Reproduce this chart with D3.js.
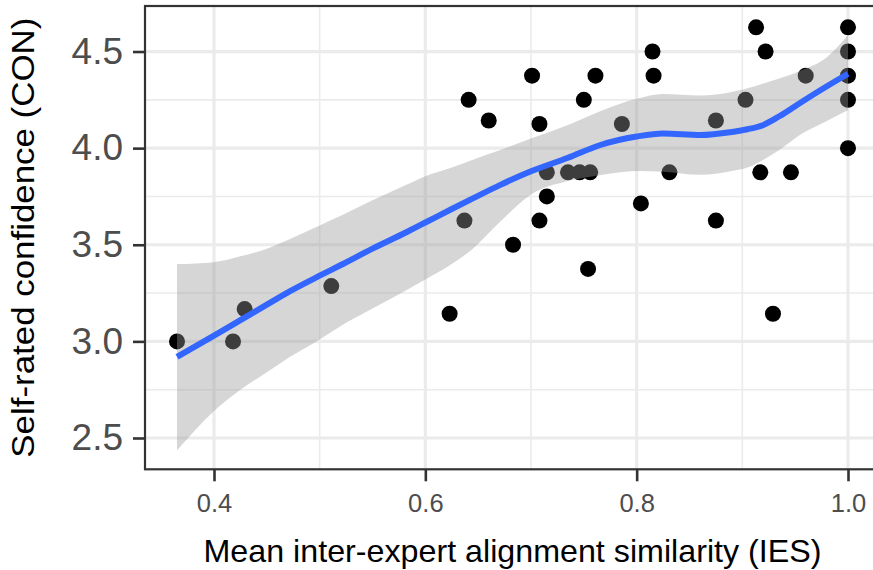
<!DOCTYPE html>
<html>
<head>
<meta charset="utf-8">
<script src="https://cdn.jsdelivr.net/npm/d3@7"></script>
<style>
  html, body { margin: 0; padding: 0; background: #ffffff; }
  svg { display: block; font-family: "Liberation Sans", Arial, sans-serif; }
</style>
</head>
<body>
<svg id="chart" width="873" height="570"></svg>
<script>
// ---- data ----
const ies = [0.365, 0.418, 0.429, 0.511, 0.623, 0.637, 0.641, 0.660, 0.683, 0.701,
             0.708, 0.708, 0.715, 0.715, 0.735, 0.746, 0.756, 0.761, 0.750, 0.754,
             0.786, 0.804, 0.815, 0.816, 0.831, 0.875, 0.875, 0.903, 0.913, 0.917,
             0.922, 0.929, 0.946, 0.960, 1.0, 1.0, 1.0, 1.0, 1.0];
const con = [3.0, 3.0, 3.167, 3.286, 3.143, 3.625, 4.25, 4.143, 3.5, 4.375,
             4.125, 3.625, 3.875, 3.75, 3.875, 3.875, 3.875, 4.375, 4.25, 3.375,
             4.125, 3.714, 4.5, 4.375, 3.875, 4.143, 3.625, 4.25, 4.625, 3.875,
             4.5, 3.143, 3.875, 4.375, 4.625, 4.5, 4.375, 4.25, 4.0];

// loess smooth (fit and 95% band)
const smoothX = [0.365, 0.40, 0.425, 0.45, 0.472, 0.50, 0.52, 0.55, 0.582, 0.60, 0.625, 0.645,
                 0.671, 0.70, 0.735, 0.765, 0.80, 0.825, 0.86, 0.89, 0.905, 0.92, 0.935,
                 0.955, 0.98, 1.0];
const smoothFit = [2.92, 3.03, 3.11, 3.19, 3.26, 3.34, 3.395, 3.48, 3.565, 3.615, 3.685, 3.74,
                   3.81, 3.88, 3.95, 4.015, 4.06, 4.076, 4.068, 4.084, 4.098, 4.12, 4.165,
                   4.235, 4.32, 4.385];
const smoothUpper = [3.40, 3.41, 3.44, 3.48, 3.53, 3.60, 3.65, 3.73, 3.81, 3.855, 3.90, 3.94,
                     3.99, 4.05, 4.12, 4.19, 4.255, 4.28, 4.272, 4.29, 4.31, 4.335, 4.36,
                     4.40, 4.47, 4.585];
const smoothLower = [2.436, 2.64, 2.75, 2.84, 2.92, 3.01, 3.08, 3.17, 3.265, 3.32, 3.40, 3.48,
                     3.62, 3.76, 3.83, 3.86, 3.882, 3.878, 3.862, 3.882, 3.90, 3.94, 3.99,
                     4.07, 4.14, 4.197];

const xTicks = [0.4, 0.6, 0.8, 1.0];
const xTickLabels = ["0.4", "0.6", "0.8", "1.0"];
const xMinor = [0.5, 0.7, 0.9];
const yTicks = [2.5, 3.0, 3.5, 4.0, 4.5];
const yTickLabels = ["2.5", "3.0", "3.5", "4.0", "4.5"];
const yMinor = [2.75, 3.25, 3.75, 4.25];

const xTitle = "Mean inter-expert alignment similarity (IES)";
const yTitle = "Self-rated confidence (CON)";

// ---- layout ----
const panel = { left: 145, top: 6, right: 881.7, bottom: 469.3 };
const x = d3.scaleLinear().domain([0.3347, 1.0319]).range([panel.left, panel.right]);
const y = d3.scaleLinear().domain([2.338, 4.7356]).range([panel.bottom, panel.top]);

const svg = d3.select("#chart");
const pw = panel.right - panel.left, ph = panel.bottom - panel.top;

svg.append("rect").attr("x", 0).attr("y", 0).attr("width", 873).attr("height", 570).attr("fill", "#ffffff");

const g = svg.append("g");
const clip = svg.append("clipPath").attr("id", "pclip");
clip.append("rect").attr("x", panel.left).attr("y", panel.top).attr("width", pw).attr("height", ph);

// grid
const grid = g.append("g").attr("clip-path", "url(#pclip)");
grid.selectAll("line.ymin").data(yMinor).join("line")
  .attr("x1", panel.left).attr("x2", panel.right)
  .attr("y1", d => y(d)).attr("y2", d => y(d))
  .attr("stroke", "#ebebeb").attr("stroke-width", 1.6);
grid.selectAll("line.xmin").data(xMinor).join("line")
  .attr("y1", panel.top).attr("y2", panel.bottom)
  .attr("x1", d => x(d)).attr("x2", d => x(d))
  .attr("stroke", "#ebebeb").attr("stroke-width", 1.6);
grid.selectAll("line.ymaj").data(yTicks).join("line")
  .attr("x1", panel.left).attr("x2", panel.right)
  .attr("y1", d => y(d)).attr("y2", d => y(d))
  .attr("stroke", "#ebebeb").attr("stroke-width", 3.2);
grid.selectAll("line.xmaj").data(xTicks).join("line")
  .attr("y1", panel.top).attr("y2", panel.bottom)
  .attr("x1", d => x(d)).attr("x2", d => x(d))
  .attr("stroke", "#ebebeb").attr("stroke-width", 3.2);

const plot = g.append("g").attr("clip-path", "url(#pclip)");

// points
const pts = ies.map((v, i) => ({ x: v, y: con[i] }));
plot.selectAll("circle").data(pts).join("circle")
  .attr("cx", d => x(d.x)).attr("cy", d => y(d.y)).attr("r", 8)
  .attr("fill", "#000000");

// ribbon
const band = smoothX.map((v, i) => ({ x: v, lo: smoothLower[i], hi: smoothUpper[i], f: smoothFit[i] }));
plot.append("path").datum(band)
  .attr("d", d3.area().x(d => x(d.x)).y0(d => y(d.lo)).y1(d => y(d.hi)).curve(d3.curveMonotoneX))
  .attr("fill", "#999999").attr("fill-opacity", 0.4);

// fit line
plot.append("path").datum(band)
  .attr("d", d3.line().x(d => x(d.x)).y(d => y(d.f)).curve(d3.curveMonotoneX))
  .attr("fill", "none").attr("stroke", "#3366ff").attr("stroke-width", 6)
  .attr("stroke-linecap", "butt");

// panel border
g.append("rect").attr("x", panel.left).attr("y", panel.top).attr("width", pw).attr("height", ph)
  .attr("fill", "none").attr("stroke", "#333333").attr("stroke-width", 2.2);

// axes
const xAxis = d3.axisBottom(x).tickValues(xTicks).tickSize(12).tickPadding(13)
  .tickFormat((d, i) => xTickLabels[i]);
const xg = svg.append("g").attr("transform", `translate(0,${panel.bottom})`).call(xAxis);
xg.select(".domain").remove();
xg.selectAll(".tick line").attr("stroke", "#333333").attr("stroke-width", 2.6);
xg.selectAll(".tick text").attr("fill", "#4d4d4d").style("font-size", "25.5px")
  .style("font-family", "'Liberation Sans', Arial, sans-serif");

const yAxis = d3.axisLeft(y).tickValues(yTicks).tickSize(12).tickPadding(10)
  .tickFormat((d, i) => yTickLabels[i]);
const yg = svg.append("g").attr("transform", `translate(${panel.left},0)`).call(yAxis);
yg.select(".domain").remove();
yg.selectAll(".tick line").attr("stroke", "#333333").attr("stroke-width", 2.6);
yg.selectAll(".tick text").attr("fill", "#4d4d4d").style("font-size", "37px")
  .style("font-family", "'Liberation Sans', Arial, sans-serif");

// titles
svg.append("text").attr("x", 512.5).attr("y", 561.5)
  .attr("text-anchor", "middle").attr("fill", "#000000")
  .attr("textLength", 618).attr("lengthAdjust", "spacingAndGlyphs")
  .style("font-size", "30.5px").text(xTitle);
svg.append("text")
  .attr("transform", `translate(33.5,${(panel.top + panel.bottom) / 2}) rotate(-90)`)
  .attr("text-anchor", "middle").attr("fill", "#000000")
  .attr("textLength", 440).attr("lengthAdjust", "spacingAndGlyphs")
  .style("font-size", "30.5px").text(yTitle);
</script>
</body>
</html>
